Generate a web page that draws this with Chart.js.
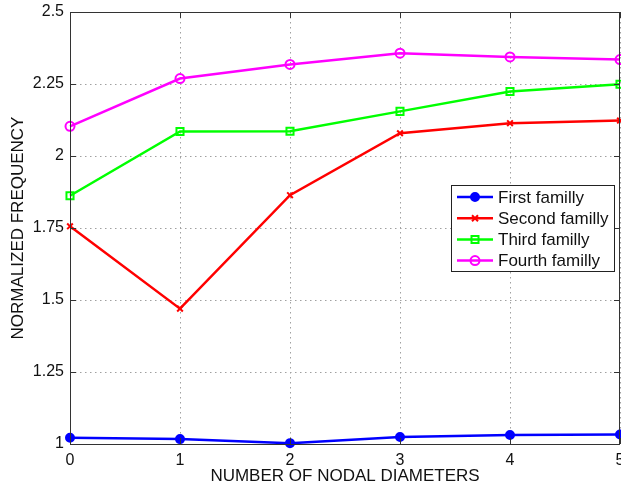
<!DOCTYPE html>
<html>
<head>
<meta charset="utf-8">
<script src="https://cdn.jsdelivr.net/npm/chart.js@4/dist/chart.umd.min.js"></script>
<style>
  html, body { margin: 0; padding: 0; background: #fff; }
  #wrap { width: 621px; height: 489px; }
</style>
</head>
<body>
<div id="wrap"><canvas id="freqChart" width="621" height="489"></canvas></div>
<script>
const diameters = [0, 1, 2, 3, 4, 5];
const firstFamily = [1.022, 1.017, 1.003, 1.024, 1.031, 1.033];
const secondFamily = [1.756, 1.470, 1.864, 2.079, 2.114, 2.123];
const thirdFamily = [1.862, 2.085, 2.086, 2.155, 2.224, 2.249];
const fourthFamily = [2.103, 2.269, 2.318, 2.357, 2.344, 2.335];
const yTicks = [1, 1.25, 1.5, 1.75, 2, 2.25, 2.5];
const xTicks = [0, 1, 2, 3, 4, 5];
const seriesNames = ["First familly", "Second familly", "Third familly", "Fourth familly"];

const FONT = "'Liberation Sans', Arial, Helvetica, sans-serif";
const AXIS = "#333";

function toPoints(values) {
  return values.map((v, i) => ({ x: diameters[i], y: v }));
}

function drawMarker(ctx, style, x, y, color, filled) {
  ctx.save();
  ctx.strokeStyle = color;
  ctx.fillStyle = color;
  ctx.lineWidth = 2;
  ctx.beginPath();
  if (style === "circle") {
    ctx.arc(x, y, filled ? 4 : 4.5, 0, Math.PI * 2);
    if (filled) ctx.fill();
    ctx.stroke();
  } else if (style === "crossRot") {
    ctx.moveTo(x - 3, y - 3); ctx.lineTo(x + 3, y + 3);
    ctx.moveTo(x + 3, y - 3); ctx.lineTo(x - 3, y + 3);
    ctx.stroke();
  } else if (style === "rect") {
    ctx.rect(x - 3.5, y - 3.5, 7, 7);
    ctx.stroke();
  }
  ctx.restore();
}

// grille pointillee sous les courbes
const dottedGrid = {
  id: "dottedGrid",
  beforeDatasetsDraw(chart) {
    const { ctx, chartArea: a, scales } = chart;
    ctx.save();
    ctx.strokeStyle = "#a0a0a0";
    ctx.lineWidth = 1;
    ctx.setLineDash([1.5, 3.5]);
    ctx.beginPath();
    xTicks.forEach((t) => {
      const px = Math.round(scales.x.getPixelForValue(t)) + 0.5;
      ctx.moveTo(px, a.top); ctx.lineTo(px, a.bottom);
    });
    yTicks.forEach((t) => {
      const py = Math.round(scales.y.getPixelForValue(t)) + 0.5;
      ctx.moveTo(a.left, py); ctx.lineTo(a.right, py);
    });
    ctx.stroke();
    ctx.restore();
  }
};

// boite, graduations interieures et legende a la facon Matlab
const matlabFrame = {
  id: "matlabFrame",
  afterDraw(chart) {
    const { ctx, chartArea: a, scales } = chart;
    ctx.save();
    ctx.strokeStyle = AXIS;
    ctx.lineWidth = 1;
    ctx.strokeRect(Math.round(a.left) + 0.5, Math.round(a.top) + 0.5,
      Math.round(a.right - a.left) - 1, Math.round(a.bottom - a.top));
    ctx.beginPath();
    xTicks.forEach((t) => {
      const px = Math.round(scales.x.getPixelForValue(t)) + 0.5;
      ctx.moveTo(px, a.bottom); ctx.lineTo(px, a.bottom - 6);
      ctx.moveTo(px, a.top); ctx.lineTo(px, a.top + 6);
    });
    yTicks.forEach((t) => {
      const py = Math.round(scales.y.getPixelForValue(t)) + 0.5;
      ctx.moveTo(a.left, py); ctx.lineTo(a.left + 6, py);
      ctx.moveTo(a.right, py); ctx.lineTo(a.right - 6, py);
    });
    ctx.stroke();

    // legende
    const box = { x: 451, y: 185, w: 163, h: 86 };
    ctx.fillStyle = "#fff";
    ctx.fillRect(box.x, box.y, box.w, box.h);
    ctx.strokeStyle = "#222";
    ctx.strokeRect(box.x + 0.5, box.y + 0.5, box.w, box.h);
    ctx.font = "17px " + FONT;
    ctx.textBaseline = "middle";
    ctx.textAlign = "left";
    chart.data.datasets.forEach((ds, i) => {
      const y = box.y + 12 + i * 21.2;
      ctx.strokeStyle = ds.borderColor;
      ctx.lineWidth = 2.5;
      ctx.beginPath();
      ctx.moveTo(box.x + 6, y); ctx.lineTo(box.x + 42, y);
      ctx.stroke();
      drawMarker(ctx, ds.pointStyle, box.x + 24, y, ds.borderColor, ds.pointBackgroundColor !== "transparent");
      ctx.fillStyle = "#111";
      ctx.fillText(ds.label, box.x + 47, y + 1);
    });
    ctx.restore();
  }
};

const colors = ["#0000ff", "#ff0000", "#00ff00", "#ff00ff"];
const styles = ["circle", "crossRot", "rect", "circle"];
const fills = ["#0000ff", "#ff0000", "transparent", "transparent"];
const radii = [4, 4, 5, 4.5];
const allSeries = [firstFamily, secondFamily, thirdFamily, fourthFamily];

new Chart(document.getElementById("freqChart"), {
  type: "line",
  data: {
    datasets: allSeries.map((values, i) => ({
      label: seriesNames[i],
      data: toPoints(values),
      borderColor: colors[i],
      backgroundColor: colors[i],
      borderWidth: 2.5,
      pointStyle: styles[i],
      pointRadius: radii[i],
      pointBorderWidth: 2,
      pointBorderColor: colors[i],
      pointBackgroundColor: fills[i],
      tension: 0,
      clip: false
    }))
  },
  options: {
    responsive: false,
    animation: false,
    layout: { autoPadding: false, padding: { top: 12, right: 1, left: 0, bottom: 0 } },
    plugins: {
      legend: { display: false },
      tooltip: { enabled: false }
    },
    scales: {
      x: {
        type: "linear",
        min: 0,
        max: 5,
        afterBuildTicks: (scale) => { scale.ticks = xTicks.map((v) => ({ value: v })); },
        afterFit: (scale) => { scale.height = 45; scale.paddingLeft = 0; scale.paddingRight = 0; },
        grid: { display: false, drawTicks: false },
        border: { display: false },
        ticks: {
          padding: 7,
          color: "#111",
          maxRotation: 0,
          font: { family: FONT, size: 16 },
          callback: (v) => String(v)
        },
        title: {
          display: true,
          text: "NUMBER OF NODAL DIAMETERS",
          color: "#111",
          font: { family: FONT, size: 17 },
          padding: { top: 0, bottom: 2 }
        }
      },
      y: {
        min: 1,
        max: 2.5,
        afterBuildTicks: (scale) => { scale.ticks = yTicks.map((v) => ({ value: v })); },
        afterFit: (scale) => { scale.width = 70; scale.paddingTop = 0; scale.paddingBottom = 0; },
        grid: { display: false, drawTicks: false },
        border: { display: false },
        ticks: {
          padding: 6,
          color: "#111",
          font: { family: FONT, size: 16 },
          callback: (v) => String(v)
        },
        title: {
          display: true,
          text: "NORMALIZED FREQUENCY",
          color: "#111",
          font: { family: FONT, size: 17 },
          padding: { top: 8, bottom: 0 }
        }
      }
    }
  },
  plugins: [dottedGrid, matlabFrame]
});
</script>
</body>
</html>
